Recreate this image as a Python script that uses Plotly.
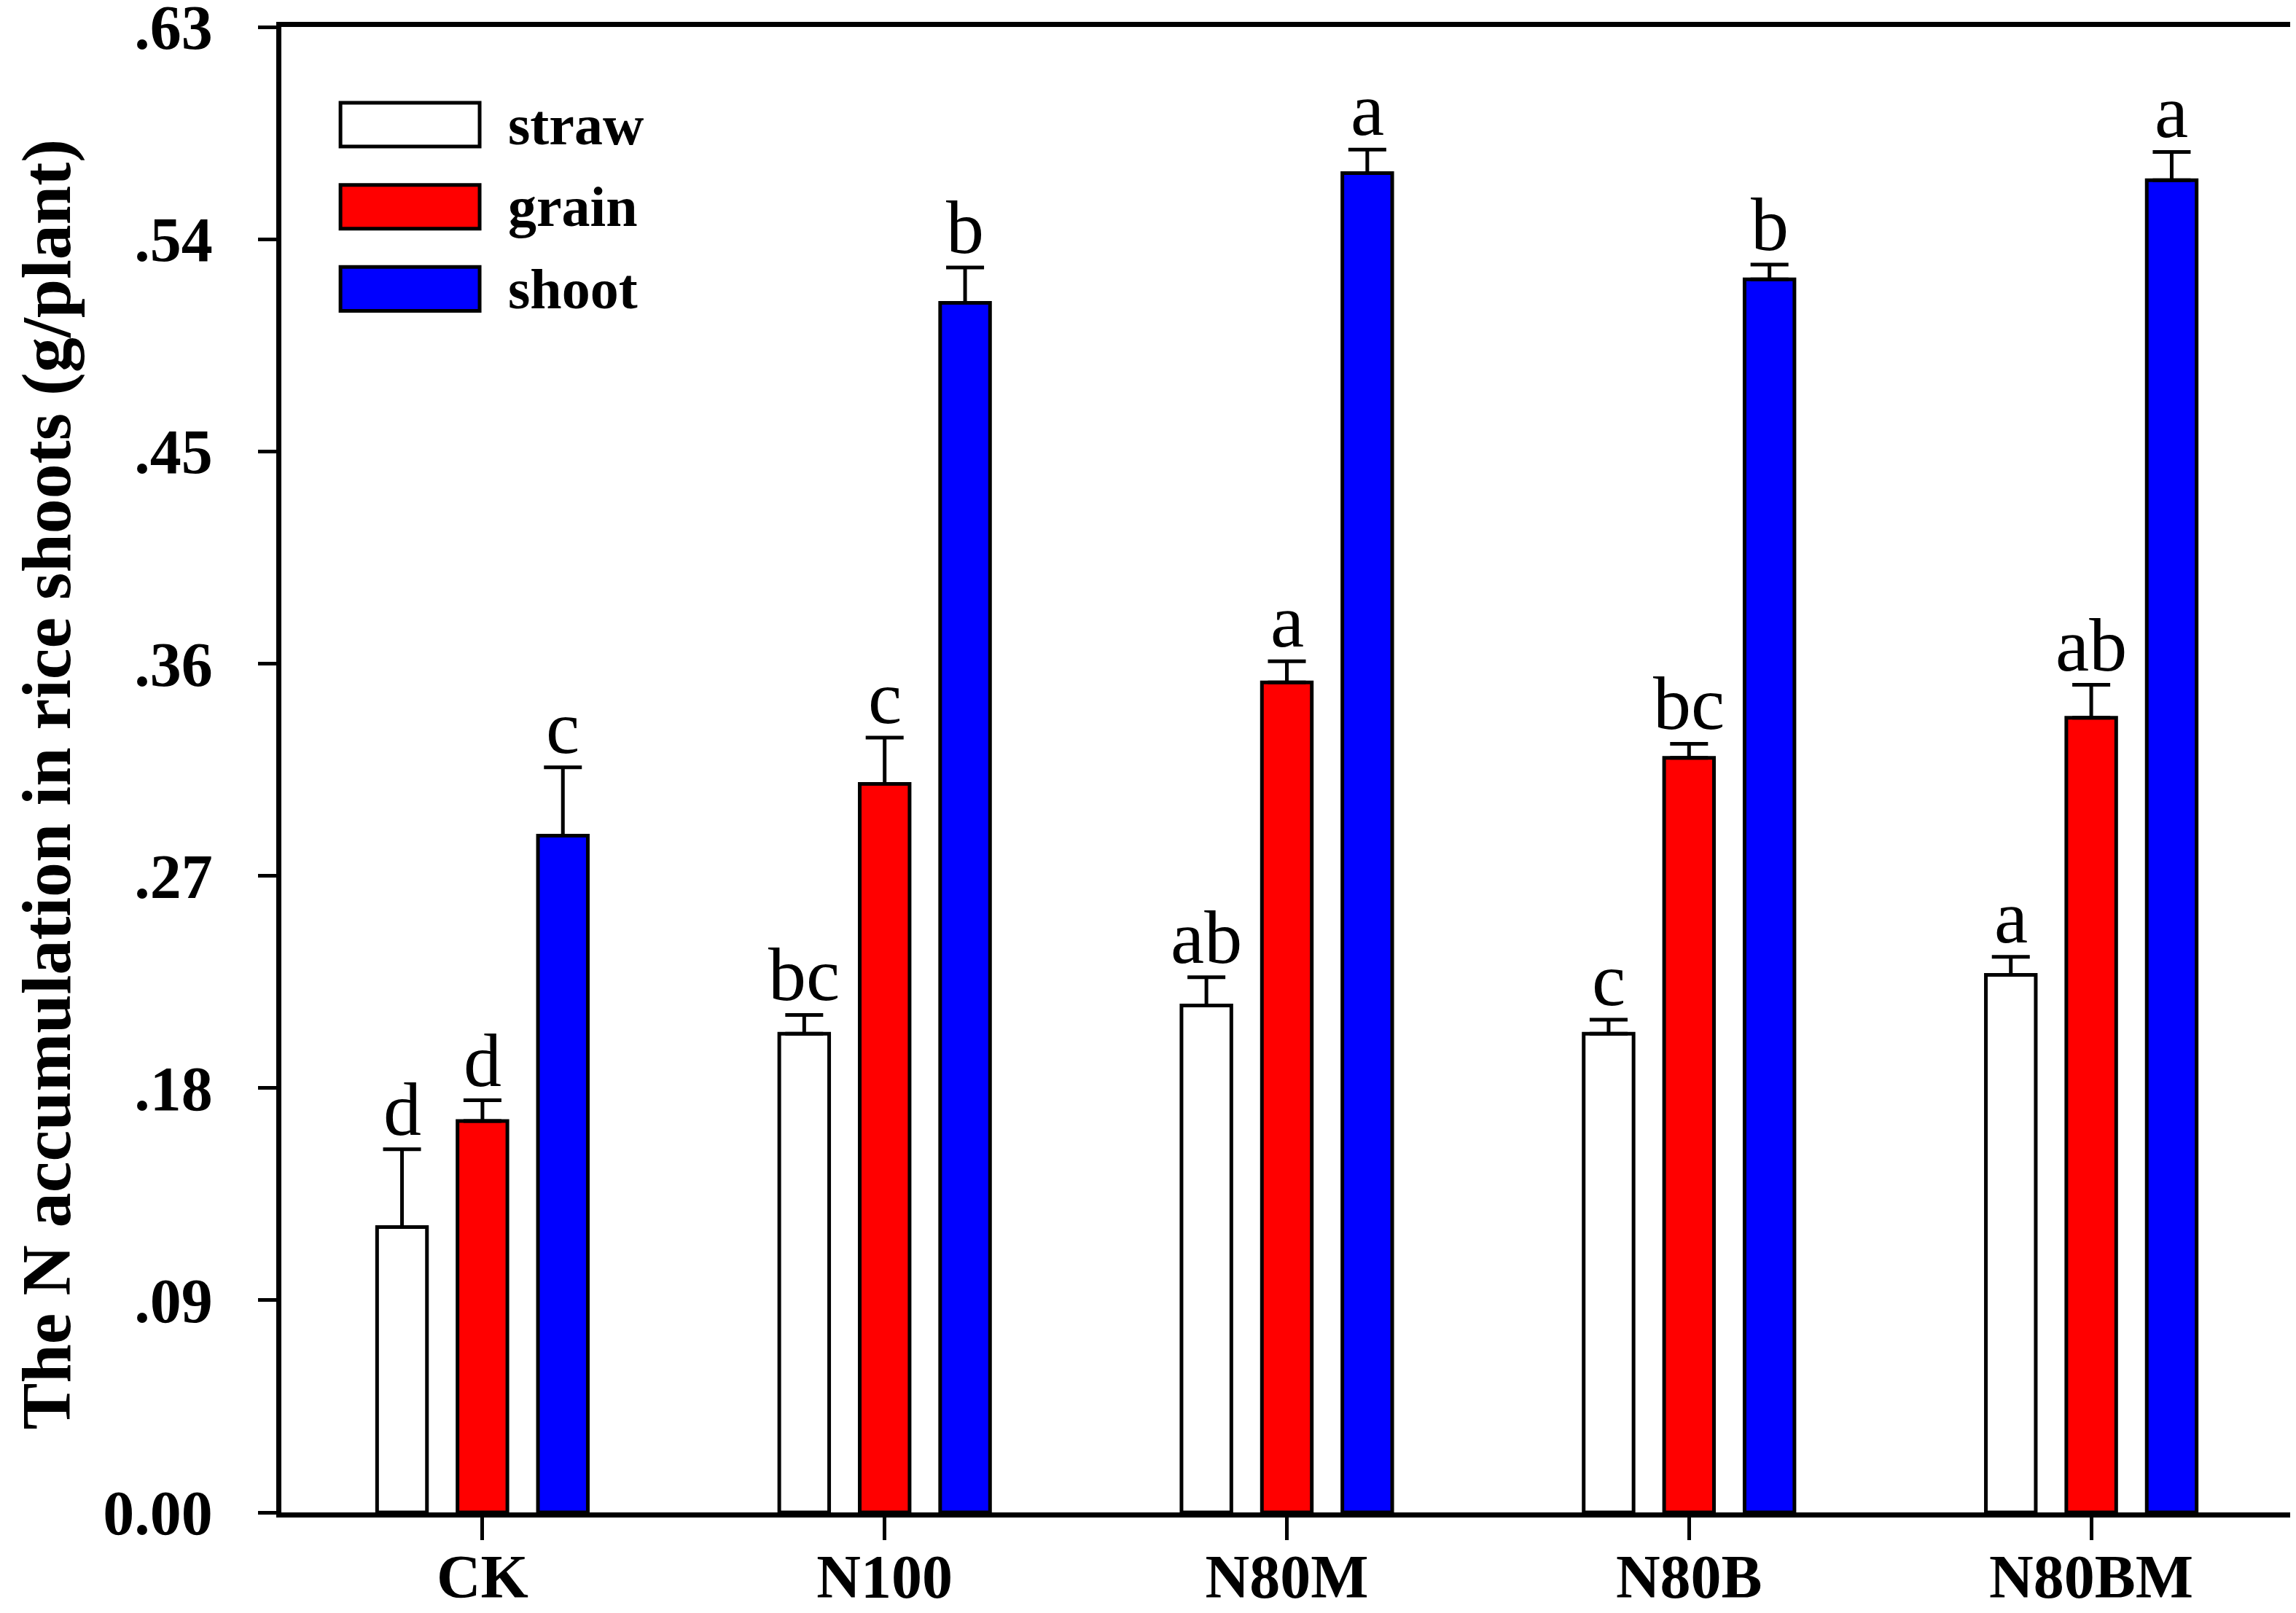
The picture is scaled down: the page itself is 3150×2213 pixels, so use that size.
import plotly.graph_objects as go

categories = ["CK", "N100", "N80M", "N80B", "N80BM"]
series_names = ["straw", "grain", "shoot"]

straw = [0.121, 0.203, 0.215, 0.203, 0.228]
straw_err = [0.033, 0.008, 0.012, 0.006, 0.0076]
grain = [0.166, 0.309, 0.352, 0.320, 0.337]
grain_err = [0.0088, 0.0196, 0.009, 0.006, 0.014]
shoot = [0.287, 0.513, 0.568, 0.523, 0.565]
shoot_err = [0.029, 0.015, 0.010, 0.0062, 0.012]

straw_letters = ["d", "bc", "ab", "c", "a"]
grain_letters = ["d", "c", "a", "bc", "ab"]
shoot_letters = ["c", "b", "a", "b", "a"]

y_tickvals = [0, 0.09, 0.18, 0.27, 0.36, 0.45, 0.54, 0.63]
y_ticktext = ["0.00", ".09", ".18", ".27", ".36", ".45", ".54", ".63"]
y_title = "The N accumulation in rice shoots (g/plant)"

colors = ["#FFFFFF", "#FF0000", "#0000FF"]
FONT = "Liberation Serif, Times New Roman, serif"

vals = [straw, grain, shoot]
errs = [straw_err, grain_err, shoot_err]
letters = [straw_letters, grain_letters, shoot_letters]

bargap = 0.4
slot = (1 - bargap) / len(series_names)

fig = go.Figure()
for k, name in enumerate(series_names):
    fig.add_trace(go.Bar(
        x=categories, y=vals[k], name=name,
        marker=dict(color=colors[k], line=dict(color="black", width=5)),
        error_y=dict(type="data", array=errs[k], arrayminus=[0] * len(categories),
                     symmetric=False, color="black", thickness=5, width=26),
        showlegend=False,
    ))

# significance letters above each error bar
for k in range(len(series_names)):
    offset = (k - 1) * slot
    for i, cat in enumerate(categories):
        fig.add_annotation(
            x=i + offset, y=vals[k][i] + errs[k][i], xref="x", yref="y",
            text=letters[k][i], showarrow=False, yanchor="bottom", yshift=-4,
            font=dict(family=FONT, size=104, color="black"),
        )

# legend drawn as boxes + text, like the original
for k, name in enumerate(series_names):
    top = 0.949 - k * 0.0553
    fig.add_shape(type="rect", xref="paper", yref="paper",
                  x0=0.0294, x1=0.0986, y0=top - 0.0295, y1=top,
                  fillcolor=colors[k], line=dict(color="black", width=5))
    fig.add_annotation(x=0.112, y=top - 0.0148, xref="paper", yref="paper",
                       text=name, showarrow=False, xanchor="left", yanchor="middle",
                       font=dict(family=FONT, size=78, color="black", weight="bold"))

# y-axis title
fig.add_annotation(x=-0.117, y=0.49, xref="paper", yref="paper", text=y_title,
                   textangle=-90, showarrow=False, xanchor="center", yanchor="middle",
                   font=dict(family=FONT, size=96, color="black", weight="bold"))

fig.update_layout(
    width=3150, height=2213,
    margin=dict(l=378, r=13, t=29, b=146, autoexpand=False),
    paper_bgcolor="white", plot_bgcolor="white",
    barmode="group", bargap=bargap, bargroupgap=0.38,
    font=dict(family=FONT, color="black"),
)
fig.update_xaxes(
    type="category", range=[-0.5, 4.5], automargin=False,
    showline=True, linecolor="black", linewidth=7, mirror=True,
    ticks="outside", ticklen=31, tickwidth=5, tickcolor="black",
    showgrid=False, zeroline=False,
    tickfont=dict(family=FONT, size=84, color="black", weight="bold"),
    ticklabelstandoff=-22,
)
fig.update_yaxes(
    range=[0, 0.63], tickvals=y_tickvals, ticktext=y_ticktext, automargin=False,
    showline=True, linecolor="black", linewidth=7, mirror=True,
    ticks="outside", ticklen=25, tickwidth=5, tickcolor="black",
    showgrid=False, zeroline=False, ticklabeloverflow="allow",
    tickfont=dict(family=FONT, size=86, color="black", weight="bold"),
    ticklabelstandoff=45,
)

fig.write_html("out.html")
